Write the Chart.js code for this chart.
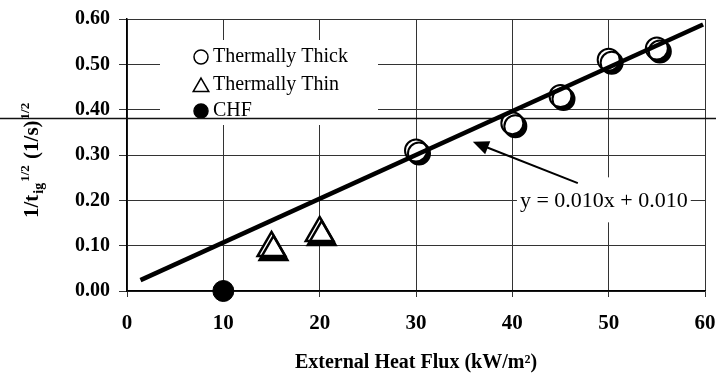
<!DOCTYPE html>
<html>
<head>
<meta charset="utf-8">
<script src="https://cdn.jsdelivr.net/npm/chart.js@4.4.1/dist/chart.umd.min.js"></script>
<style>
    html, body { margin: 0; padding: 0; background: #fff; }
    #wrap { width: 716px; height: 375px; }
</style>
</head>
<body>
<div id="wrap"><canvas id="ignitionChart" width="716" height="375"></canvas></div>
<script>
// Values
const thickFlux = [30, 40, 45, 50, 55];
const thickRate = [0.31, 0.37, 0.43, 0.51, 0.535];
const thinFlux = [15, 20];
const thinRate = [0.095, 0.128];
const chfFlux = [10];
const chfRate = [0.0];
const fitFlux = [1.4, 59.8];
const fitRate = [0.024, 0.588];
const seriesNames = ['Thermally Thick', 'Thermally Thin', 'CHF'];
const yTickLabels = ['0.00', '0.10', '0.20', '0.30', '0.40', '0.50', '0.60'];
const xTickLabels = ['0', '10', '20', '30', '40', '50', '60'];
const fitText = 'y = 0.010x + 0.010';
const xTitle = 'External Heat Flux (kW/m\u00B2)';

// annotation anchors, in data units
const fitTextAt = [49.5, 0.20];
const arrowFrom = [46.8, 0.238];
const arrowTo = [35.9, 0.329];
const scanLineAt = 0.382;

const SERIF = "'Liberation Serif', 'Times New Roman', serif";

function toPoints(xs, ys) {
    return xs.map((v, i) => ({ x: v, y: ys[i] }));
}

// Offset black shadow behind the open markers
const shadowPlugin = {
    id: 'markerShadow',
    beforeDatasetDraw(chart, args) {
        const ds = chart.data.datasets[args.index];
        if (!ds.shadow) return;
        const ctx = chart.ctx;
        ctx.save();
        ctx.shadowColor = '#000';
        ctx.shadowBlur = 0;
        ctx.shadowOffsetX = ds.shadow[0];
        ctx.shadowOffsetY = ds.shadow[1];
    },
    afterDatasetDraw(chart, args) {
        const ds = chart.data.datasets[args.index];
        if (ds.shadow) chart.ctx.restore();
    }
};

// Legend box, fit equation, arrow, y title
const notesPlugin = {
    id: 'notes',
    beforeDatasetsDraw(chart) {
        const { ctx, chartArea: area, scales: { x, y } } = chart;
        ctx.save();

        // legend
        const lx = area.left + 33, ly = area.top + 21;
        ctx.fillStyle = '#fff';
        ctx.fillRect(lx, ly, 218, 85);
        const rows = [17, 45, 71];
        ctx.font = '20px ' + SERIF;
        ctx.textBaseline = 'middle';
        ctx.textAlign = 'left';
        seriesNames.forEach((name, i) => {
            const ds = chart.data.datasets.find(d => d.label === name);
            const my = ly + rows[i];
            ctx.fillStyle = ds.pointBackgroundColor;
            ctx.strokeStyle = '#000';
            ctx.lineWidth = 1.5;
            const style = ds.pointStyle;
            Chart.helpers.drawPoint(ctx, {
                pointStyle: style,
                rotation: 0,
                radius: style === 'triangle' ? 9 : 7,
                borderWidth: 1.5
            }, lx + 41, my + (style === 'triangle' ? 2 : 0));
            ctx.fillStyle = '#000';
            ctx.fillText(name, lx + 53, my);
        });

        // equation label
        ctx.font = '22px ' + SERIF;
        const tw = ctx.measureText(fitText).width;
        const ex = x.getPixelForValue(fitTextAt[0]);
        const ey = y.getPixelForValue(fitTextAt[1]);
        ctx.fillStyle = '#fff';
        ctx.fillRect(ex - tw / 2 - 3, ey - 23, tw + 6, 45);
        ctx.fillStyle = '#000';
        ctx.textAlign = 'center';
        ctx.fillText(fitText, ex, ey + 1);

        // arrow
        const x0 = x.getPixelForValue(arrowFrom[0]), y0 = y.getPixelForValue(arrowFrom[1]);
        const x1 = x.getPixelForValue(arrowTo[0]), y1 = y.getPixelForValue(arrowTo[1]);
        const ang = Math.atan2(y1 - y0, x1 - x0);
        ctx.strokeStyle = '#000';
        ctx.lineWidth = 2;
        ctx.beginPath();
        ctx.moveTo(x0, y0);
        ctx.lineTo(x1 - 10 * Math.cos(ang), y1 - 10 * Math.sin(ang));
        ctx.stroke();
        ctx.beginPath();
        ctx.moveTo(x1, y1);
        ctx.lineTo(x1 - 16 * Math.cos(ang) + 7 * Math.sin(ang), y1 - 16 * Math.sin(ang) - 7 * Math.cos(ang));
        ctx.lineTo(x1 - 16 * Math.cos(ang) - 7 * Math.sin(ang), y1 - 16 * Math.sin(ang) + 7 * Math.cos(ang));
        ctx.closePath();
        ctx.fillStyle = '#000';
        ctx.fill();

        // stray scan line across the page
        const sy = Math.round(y.getPixelForValue(scanLineAt)) + 0.5;
        ctx.strokeStyle = '#111';
        ctx.lineWidth = 1.5;
        ctx.beginPath();
        ctx.moveTo(0, sy);
        ctx.lineTo(chart.width, sy);
        ctx.stroke();

        ctx.restore();
    },
    afterDraw(chart) {
        // rotated y title with sub/superscripts: 1/t_ig^1/2 (1/s)^1/2
        const ctx = chart.ctx;
        const parts = [
            ['1/t', 21, 0],
            ['ig', 14, 5],
            ['1/2', 13, -9],
            [' (1/s)', 21, 0],
            ['1/2', 13, -9]
        ];
        ctx.save();
        ctx.translate(38, 218);
        ctx.rotate(-Math.PI / 2);
        ctx.fillStyle = '#000';
        ctx.textBaseline = 'alphabetic';
        ctx.textAlign = 'left';
        let u = 0;
        parts.forEach(([txt, size, shift]) => {
            ctx.font = 'bold ' + size + 'px ' + SERIF;
            ctx.fillText(txt, u, shift);
            u += ctx.measureText(txt).width + 1;
        });
        ctx.restore();
    }
};

const ctx = document.getElementById('ignitionChart');
new Chart(ctx, {
    type: 'scatter',
    data: {
        datasets: [{
            label: 'fit',
            type: 'line',
            data: toPoints(fitFlux, fitRate),
            borderColor: '#000',
            borderWidth: 4.5,
            pointRadius: 0,
            fill: false,
            clip: false
        }, {
            label: seriesNames[0],
            data: toPoints(thickFlux, thickRate),
            pointStyle: 'circle',
            pointRadius: 11,
            pointBorderWidth: 2,
            pointBackgroundColor: '#fff',
            pointBorderColor: '#000',
            shadow: [3, 3],
            clip: false
        }, {
            label: seriesNames[1],
            data: toPoints(thinFlux, thinRate),
            pointStyle: 'triangle',
            pointRadius: 16,
            pointBorderWidth: 2.5,
            pointBackgroundColor: '#fff',
            pointBorderColor: '#000',
            shadow: [2, 4],
            clip: false
        }, {
            label: seriesNames[2],
            data: toPoints(chfFlux, chfRate),
            pointStyle: 'circle',
            pointRadius: 10.5,
            pointBorderWidth: 1,
            pointBackgroundColor: '#000',
            pointBorderColor: '#000',
            clip: false
        }]
    },
    options: {
        responsive: false,
        animation: false,
        layout: { autoPadding: false, padding: { top: 19, right: 11, bottom: 0, left: 0 } },
        plugins: {
            legend: { display: false },
            tooltip: { enabled: false }
        },
        scales: {
            x: {
                type: 'linear',
                min: 0,
                max: 60,
                afterFit: scale => {
                    scale.height = 84;
                    scale.paddingLeft = 0;
                    scale.paddingRight = 0;
                },
                ticks: {
                    stepSize: 10,
                    padding: 14,
                    color: '#000',
                    font: { family: SERIF, size: 21, weight: 'bold' },
                    callback: (v, i) => xTickLabels[i]
                },
                grid: { color: '#333', lineWidth: 1, tickLength: 6 },
                border: { color: '#000', width: 1.5 },
                title: {
                    display: true,
                    text: xTitle,
                    color: '#000',
                    font: { family: SERIF, size: 20, weight: 'bold' },
                    padding: { top: 0, bottom: 0 }
                }
            },
            y: {
                type: 'linear',
                min: 0,
                max: 0.6,
                afterFit: scale => {
                    scale.width = 127;
                    scale.paddingTop = 0;
                    scale.paddingBottom = 0;
                },
                ticks: {
                    stepSize: 0.1,
                    padding: 9,
                    color: '#000',
                    font: { family: SERIF, size: 20, weight: 'bold' },
                    callback: (v, i) => yTickLabels[i]
                },
                grid: { color: '#333', lineWidth: 1, tickLength: 8 },
                border: { color: '#000', width: 1.5 }
            }
        }
    },
    plugins: [shadowPlugin, notesPlugin]
});
</script>
</body>
</html>
